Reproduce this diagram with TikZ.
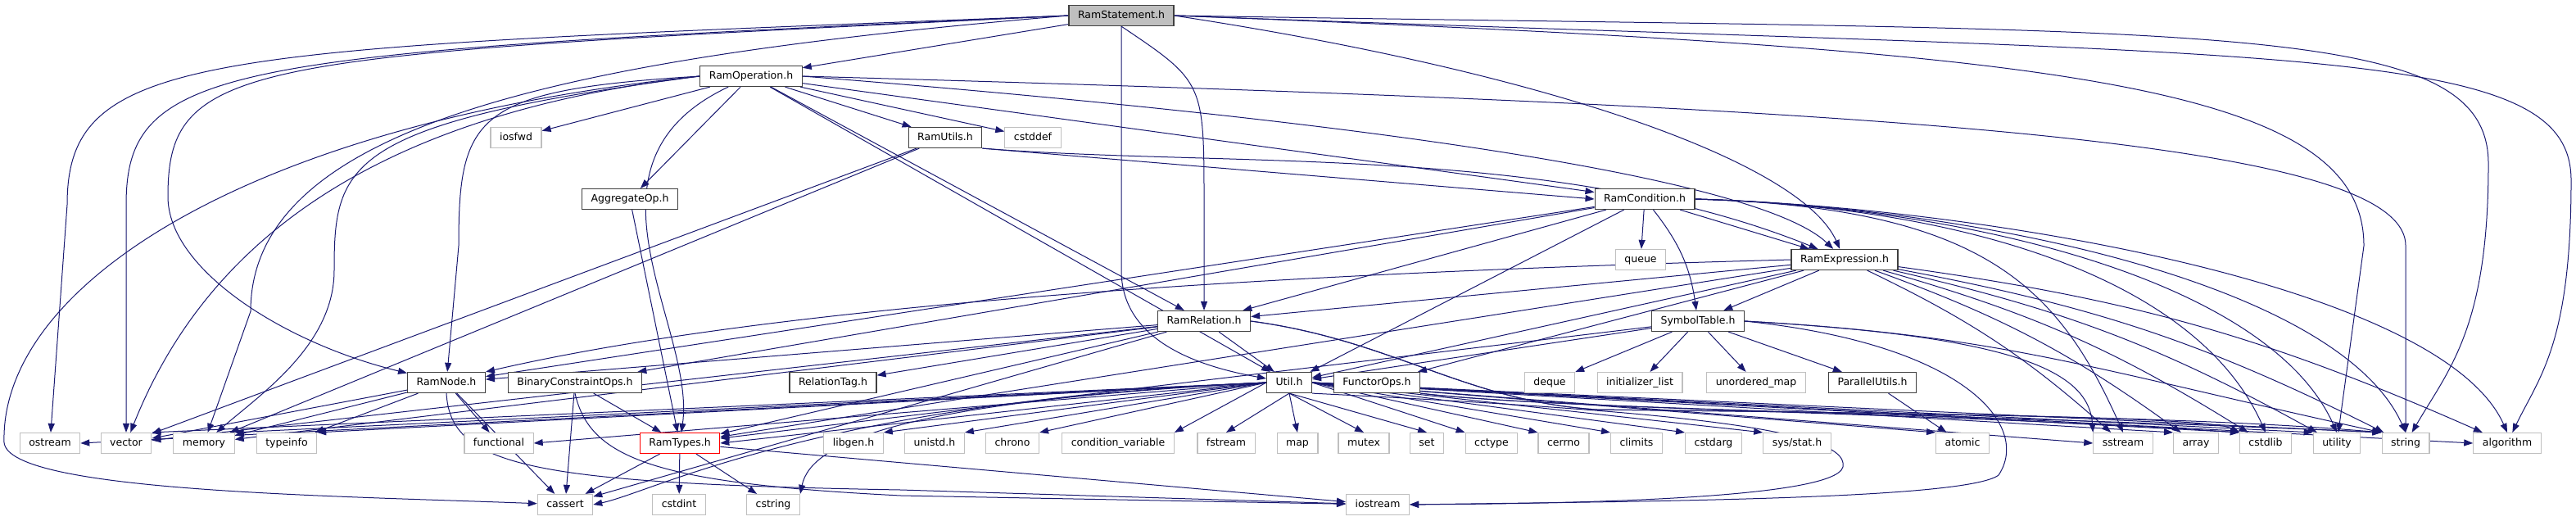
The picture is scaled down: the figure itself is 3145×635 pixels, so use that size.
\documentclass[tikz,border=0pt]{standalone}
\usepackage{fontspec}
\setmainfont{DejaVu Sans}
\usetikzlibrary{arrows.meta,backgrounds}
\definecolor{edgeblue}{RGB}{25,25,112}
\definecolor{sysgray}{RGB}{191,191,191}
\definecolor{hdrgray}{RGB}{64,64,64}

\begin{document}
\begin{tikzpicture}[x=0.25pt,y=-0.25pt,
        every node/.style={font=\fontsize{3.125}{3.75}\selectfont, minimum height=6.25pt,
            inner xsep=2.75pt, inner ysep=0pt, text height=2.5pt, text depth=0.75pt, fill=white},
        hdr/.style={draw=hdrgray, line width=0.3pt},
        sys/.style={draw=sysgray, line width=0.3pt},
        edge/.style={draw=edgeblue, line width=0.25pt, -{Triangle[length=2.75pt,width=2pt]}}]
            \useasboundingbox (0,0) rectangle (3145,635);
            % Project headers
            \node[hdr, fill=sysgray] (stmt) at (1369,19) {RamStatement.h};
            \node[hdr] (op) at (917,93) {RamOperation.h};
            \node[hdr] (utils) at (1154,168) {RamUtils.h};
            \node[hdr] (aggr) at (769,243) {AggregateOp.h};
            \node[hdr] (cond) at (2008,243) {RamCondition.h};
            \node[hdr] (expr) at (2252,317) {RamExpression.h};
            \node[hdr] (rel) at (1470,392) {RamRelation.h};
            \node[hdr] (symtab) at (2073,392) {SymbolTable.h};
            \node[hdr] (ramnode) at (545,467) {RamNode.h};
            \node[hdr] (binop) at (702,467) {BinaryConstraintOps.h};
            \node[hdr] (reltag) at (1017,467) {RelationTag.h};
            \node[hdr] (util) at (1574,467) {Util.h};
            \node[hdr] (functor) at (1681,467) {FunctorOps.h};
            \node[hdr] (parutils) at (2286,467) {ParallelUtils.h};
            \node[hdr, draw=red] (types) at (830,541) {RamTypes.h};
            % System headers
            \foreach \n/\x/\y/\t in {iosfwd/630/168/iosfwd, cstddef/1261/168/cstddef, queue/2003/317/queue,
                deque/1892/467/deque, initlist/2002/467/initializer\_list, umap/2144/467/unordered\_map,
                ostream/61/541/ostream, vector/154/541/vector, memory/249/541/memory, typeinfo/350/541/typeinfo,
                functional/609/541/functional, libgen/1042/541/libgen.h, unistd/1141/541/unistd.h,
                chrono/1236/541/chrono, condvar/1365/541/condition\_variable, fstream/1497/541/fstream,
                map/1584/541/map, mutex/1665/541/mutex, set/1742/541/set, cctype/1821/541/cctype,
                cerrno/1909/541/cerrno, climits/1998/541/climits, cstdarg/2092/541/cstdarg,
                sysstat/2194/541/{sys/stat.h}, atomic/2396/541/atomic, sstream/2592/541/sstream,
                array/2681/541/array, cstdlib/2766/541/cstdlib, utility/2853/541/utility,
                string/2937/541/string, algorithm/3061/541/algorithm,
                cassert/690/616/cassert, cstdint/829/616/cstdint, cstring/944/616/cstring,
                iostream/1682/616/iostream} {
                \node[sys] (\n) at (\x,\y) {\t};
            }
            \begin{scope}[on background layer]
            % RamStatement.h
            \draw[edge] (stmt) -- (op);
            \draw[edge] (stmt.west) .. controls (250,60) and (82,60) .. (82,250) -- (ostream);
            \draw[edge] (stmt.west) .. controls (280,65) and (154,75) .. (154,250) -- (vector);
            \draw[edge] (stmt.west) .. controls (300,68) and (205,70) .. (205,240) .. controls (205,330) and (350,420) .. (ramnode);
            \draw[edge] (stmt.west) .. controls (700,70) and (306,150) .. (306,380) -- (memory);
            \draw[edge] (stmt.south) .. controls (1470,100) .. (1470,250) -- (rel);
            \draw[edge] (stmt.south) -- (1369,330) .. controls (1369,410) and (1450,445) .. (util);
            \draw[edge] (stmt.east) .. controls (1900,90) and (2200,200) .. (expr);
            \draw[edge] (stmt.east) .. controls (2500,60) and (2886,100) .. (2886,300) -- (utility);
            \draw[edge] (stmt.east) .. controls (2700,40) and (3038,20) .. (3038,200) .. controls (3038,400) and (2990,450) .. (string);
            \draw[edge] (stmt.east) .. controls (2800,70) and (3139,50) .. (3139,220) .. controls (3139,420) and (3100,460) .. (algorithm);
            % RamOperation.h
            \foreach \t in {iosfwd,utils,cstddef,aggr,cond,rel,util} {
                \draw[edge] (op) -- (\t);
            }
            \draw[edge] (op) .. controls (690,200) and (850,400) .. (types);
            \draw[edge] (op.west) .. controls (450,140) and (250,300) .. (vector);
            \draw[edge] (op.west) .. controls (420,150) and (408,200) .. (408,330) .. controls (408,420) and (320,480) .. (memory);
            \draw[edge] (op.west) .. controls (580,110) and (560,140) .. (560,300) -- (ramnode);
            \draw[edge] (op.west) .. controls (300,150) and (0,350) .. (5,540) .. controls (10,600) and (400,605) .. (cassert);
            \draw[edge] (op.east) .. controls (1700,150) and (2150,220) .. (expr);
            \draw[edge] (op.east) .. controls (2300,130) and (2937,170) .. (2937,300) -- (string);
            % RamUtils.h and AggregateOp.h
            \draw[edge] (utils.south east) -- (cond.west);
            \draw[edge] (utils.south east) .. controls (1500,205) and (1900,175) .. (expr);
            \foreach \t in {vector,memory} {
                \draw[edge] (utils) -- (\t);
            }
            \draw[edge] (aggr) -- (types);
            % RamCondition.h
            \foreach \t in {queue,expr,rel,ramnode,binop,util} {
                \draw[edge] (cond) -- (\t);
            }
            \draw[edge] (cond) to[bend left=15] (symtab);
            \foreach \t in {sstream,cstdlib,utility,string,algorithm} {
                \draw[edge] (cond.east) .. controls +(350,10) and +(-80,-180) .. (\t.north);
            }
            % RamExpression.h
            \foreach \t in {symtab,functor,util,rel,types} {
                \draw[edge] (expr) -- (\t);
            }
            \draw[edge] (expr.west) .. controls (1700,330) and (1000,360) .. (ramnode.north east);
            \foreach \t in {sstream,array,cstdlib,utility,string,algorithm} {
                \draw[edge] (expr) to[bend left=8] (\t);
            }
            % RamRelation.h
            \foreach \t in {util,reltag,types,ramnode,vector,memory,cassert} {
                \draw[edge] (rel) -- (\t);
            }
            \foreach \t in {cstdlib,string} {
                \draw[edge] (rel.east) .. controls (1700,415) and (1790,490) .. (1950,500) .. controls (2400,505) and (2700,510) .. (\t.north west);
            }
            % SymbolTable.h, ParallelUtils.h, FunctorOps.h
            \foreach \t in {deque,initlist,umap,parutils,util,types} {
                \draw[edge] (symtab) -- (\t);
            }
            \foreach \t in {sstream,string} {
                \draw[edge] (symtab.east) .. controls (2450,410) and (2550,450) .. (\t.north west);
            }
            \draw[edge] (symtab.east) .. controls (2400,420) and (2480,520) .. (2440,580) .. controls (2400,610) and (2000,612) .. (iostream.east);
            \draw[edge] (parutils) -- (atomic);
            \foreach \t in {cstdlib,string} {
                \draw[edge] (functor.south east) .. controls (1900,500) and (2400,505) .. (\t.north west);
            }
            % RamNode.h and BinaryConstraintOps.h
            \foreach \t in {vector,memory,typeinfo,functional,cassert} {
                \draw[edge] (ramnode) -- (\t);
            }
            \draw[edge] (ramnode.south) .. controls (550,570) and (650,590) .. (1100,598) -- (iostream);
            \foreach \t in {types,cassert} {
                \draw[edge] (binop) -- (\t);
            }
            \draw[edge] (binop.south) .. controls (720,560) and (800,590) .. (1100,605) -- (iostream);
            % Util.h
            \foreach \t in {ostream,functional,types} {
                \draw[edge] (util.west) -- (\t.east);
            }
            \draw[edge] (util.west) .. controls (1000,490) and (800,600) .. (cassert.east);
            \draw[edge] (util.west) .. controls (1100,490) and (990,540) .. (cstring.north east);
            \foreach \t in {vector,memory,typeinfo,libgen,unistd,chrono,condvar} {
                \draw[edge] (util.west) -- (\t.north east);
            }
            \foreach \t in {fstream,map,mutex,set} {
                \draw[edge] (util.south) -- (\t.north);
            }
            \foreach \t in {cctype,cerrno,climits,cstdarg,sysstat,atomic,array,cstdlib,utility,string} {
                \draw[edge] (util.east) -- (\t.north west);
            }
            \foreach \t in {sstream,algorithm} {
                \draw[edge] (util.east) -- (\t.west);
            }
            \draw[edge] (util.south east) .. controls (2000,500) and (2260,520) .. (2250,570) .. controls (2240,610) and (1900,615) .. (iostream);
            % RamTypes.h
            \foreach \t in {cstdint,cstring,cassert,iostream} {
                \draw[edge] (types) -- (\t);
            }
            \end{scope}
        \end{tikzpicture}
\end{document}
